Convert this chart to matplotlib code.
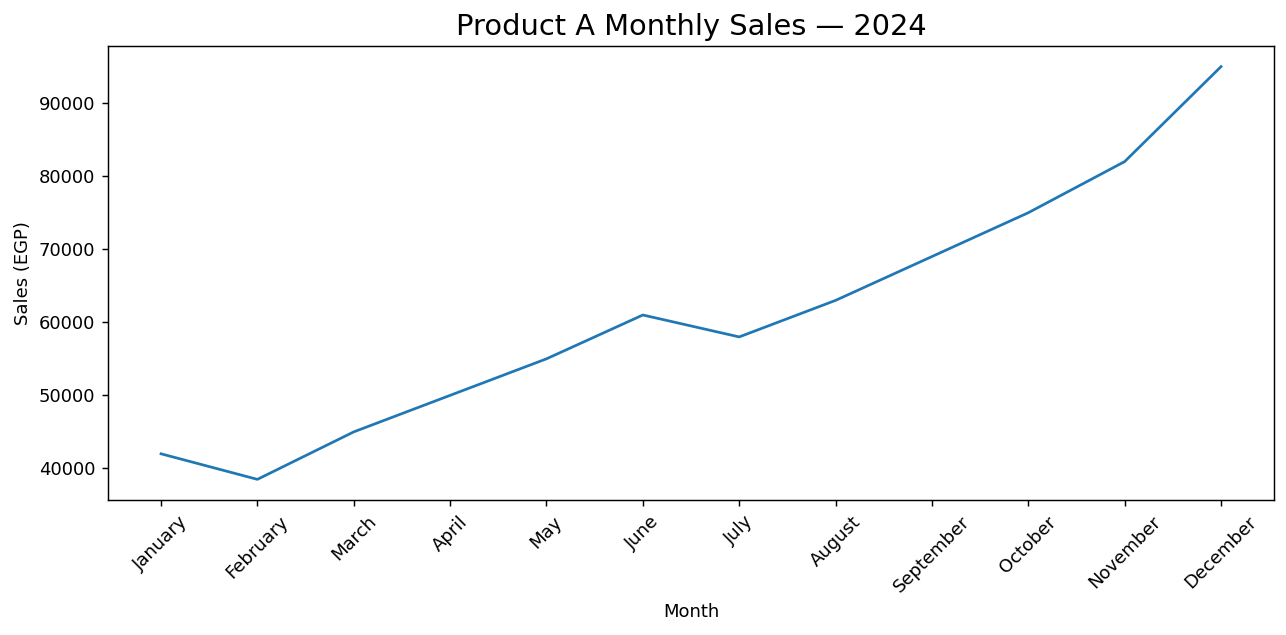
import matplotlib
matplotlib.use("Agg")
import matplotlib.pyplot as plt

months = ["January", "February", "March", "April", "May", "June",
          "July", "August", "September", "October", "November", "December"]
sales = [42000, 38500, 45000, 50000, 55000, 61000,
         58000, 63000, 69000, 75000, 82000, 95000]

fig, ax = plt.subplots(figsize=(1286 / 130, 635 / 130), dpi=130)
fig.subplots_adjust(left=0.084, right=0.9907, top=0.9276, bottom=0.2126)

ax.plot(months, sales)
ax.set_title("Product A Monthly Sales — 2024", fontsize=16)
ax.set_xlabel("Month")
ax.set_ylabel("Sales (EGP)")
plt.xticks(rotation=45)

fig.savefig("out.png", dpi=130)
